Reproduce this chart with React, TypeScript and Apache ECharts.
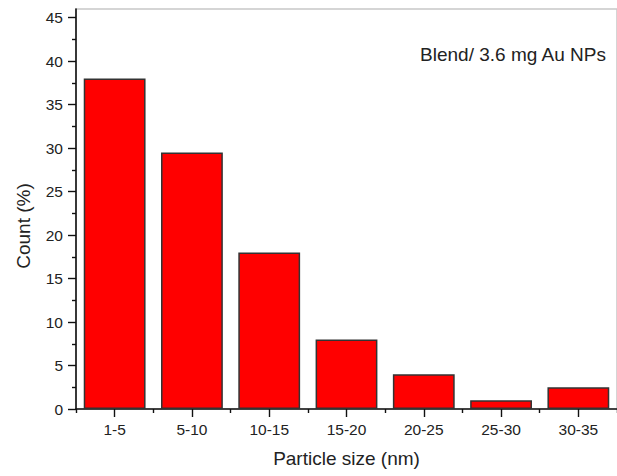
import React, { useEffect, useRef } from "react";
import * as echarts from "echarts";

const categories = ["1-5", "5-10", "10-15", "15-20", "20-25", "25-30", "30-35"];
const counts = [38, 29.5, 18, 8, 4, 1, 2.5];
const yMajorTicks = [0, 5, 10, 15, 20, 25, 30, 35, 40, 45];
const yMinorTicks = [2.5, 7.5, 12.5, 17.5, 22.5, 27.5, 32.5, 37.5, 42.5];
const xBoundaryTicks = [0, 1, 2, 3, 4, 5, 6, 7];
const xTitle = "Particle size (nm)";
const yTitle = "Count (%)";
const note = "Blend/ 3.6 mg Au NPs";

const FONT = "'Liberation Sans', Arial, Helvetica, sans-serif";

export default function App() {
  const ref = useRef<HTMLDivElement>(null);
  useEffect(() => {
    if (!ref.current) return;
    const chart = echarts.init(ref.current, null, { renderer: "svg" });
    chart.setOption({
      animation: false,
      backgroundColor: "#ffffff",
      grid: {
        left: 76,
        right: 0,
        top: 9,
        bottom: 67,
        show: true,
        borderColor: "#c8c8c8",
        borderWidth: 1.5,
        backgroundColor: "transparent",
      },
      xAxis: [
        {
          type: "category",
          data: categories,
          name: xTitle,
          nameLocation: "middle",
          nameGap: 40,
          nameTextStyle: { fontFamily: FONT, fontSize: 19, color: "#222" },
          axisLine: { show: true, lineStyle: { color: "#111", width: 1.6 } },
          axisTick: { show: true, alignWithLabel: true, length: 8, lineStyle: { color: "#111", width: 1.4 } },
          axisLabel: { fontFamily: FONT, fontSize: 15.5, color: "#222", margin: 12 },
          splitLine: { show: false },
        },
        {
          type: "value",
          position: "bottom",
          min: 0,
          max: 7,
          interval: 1,
          axisLine: { show: false },
          axisTick: { show: true, length: 4, customValues: xBoundaryTicks, lineStyle: { color: "#111", width: 1.4 } },
          axisLabel: { show: false },
          splitLine: { show: false },
        },
      ],
      yAxis: [
        {
          type: "value",
          min: 0,
          max: 46,
          name: yTitle,
          nameLocation: "middle",
          nameGap: 43,
          nameTextStyle: { fontFamily: FONT, fontSize: 19, color: "#222", padding: [0, 34, 0, 0] },
          axisLine: { show: true, lineStyle: { color: "#111", width: 1.6 } },
          axisTick: { show: true, length: 8, customValues: yMajorTicks, lineStyle: { color: "#111", width: 1.4 } },
          axisLabel: { fontFamily: FONT, fontSize: 15.5, color: "#222", margin: 13, customValues: yMajorTicks },
          splitLine: { show: false },
        },
        {
          type: "value",
          position: "left",
          min: 0,
          max: 46,
          axisLine: { show: false },
          axisTick: { show: true, length: 4, customValues: yMinorTicks, lineStyle: { color: "#111", width: 1.4 } },
          axisLabel: { show: false },
          splitLine: { show: false },
        },
      ],
      series: [
        {
          type: "bar",
          xAxisIndex: 0,
          yAxisIndex: 0,
          data: counts,
          barCategoryGap: "20%",
          itemStyle: { color: "#ff0000", borderColor: "#333333", borderWidth: 1.5 },
        },
      ],
      graphic: [
        {
          type: "text",
          right: 10,
          top: 45,
          style: { text: note, fontFamily: FONT, fontSize: 19, fill: "#222" },
        },
      ],
    });
    return () => chart.dispose();
  }, []);
  return <div ref={ref} style={{ width: 617, height: 476, position: "absolute", left: 0, top: 0 }} />;
}
